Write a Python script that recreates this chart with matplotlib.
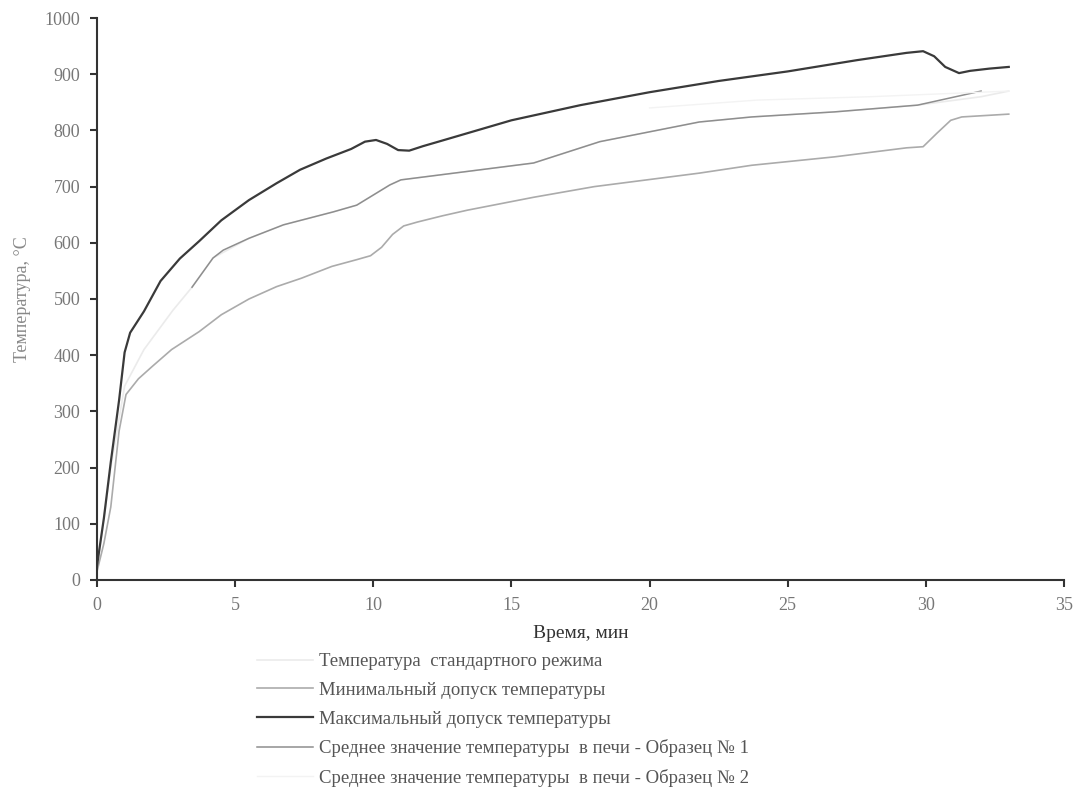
import matplotlib
matplotlib.use("Agg")
import matplotlib.pyplot as plt

plt.rcParams['font.family'] = ['Liberation Serif', 'DejaVu Serif']

# time (min) and temperature (°C)
max_t = [0, 0.25, 0.5, 0.8, 1.0, 1.2, 1.7, 2.3, 3, 3.7, 4.5, 5.5, 6.5, 7.35, 8.3, 9.2, 9.7, 10.1,
         10.5, 10.9, 11.3, 11.8, 12.5, 15, 17.5, 20, 22.5, 25, 27.5, 29.3, 29.9, 30.3, 30.7, 31.2,
         31.6, 32.3, 33]
max_v = [25, 110, 210, 320, 405, 440, 478, 532, 572, 603, 640, 676, 706, 730, 750, 767, 780, 783,
         776, 765, 764, 772, 782, 818, 845, 868, 888, 905, 925, 938, 941, 932, 913, 902,
         906, 910, 913]

min_t = [0, 0.25, 0.5, 0.8, 1.05, 1.5, 2, 2.7, 3.7, 4.5, 5.5, 6.5, 7.4, 8.5, 9.4, 9.9, 10.3, 10.7,
         11.1, 11.6, 12.5, 13.4, 15.8, 18, 21.8, 23.7, 26.7, 29.3, 29.9, 30.4, 30.9, 31.3, 33]
min_v = [15, 65, 130, 265, 330, 358, 380, 410, 442, 472, 500, 522, 537, 558, 570, 577, 592, 615,
         630, 637, 648, 658, 681, 700, 724, 738, 753, 769, 771, 795, 818, 824, 829]

std_t = [0, 0.5, 1.0, 1.7, 2.75, 3.44, 4.2, 5.5, 6.75, 8.55, 9.4, 10.1, 10.6, 11, 15.8, 18.2,
         21.8, 23.7, 26.7, 29.7, 32, 33]
std_v = [20, 200, 345, 410, 480, 521, 573, 608, 632, 655, 667, 688, 703, 712, 742, 780,
         815, 824, 833, 845, 860, 870]

s1_t = [3.44, 4.2, 4.57, 5.5, 6.75, 8.55, 9.4, 10.1, 10.6, 11, 15.8, 18.2, 21.8, 23.7, 26.7,
        29.7, 32]
s1_v = [521, 573, 587, 608, 632, 655, 667, 688, 703, 712, 742, 780, 815, 824, 833,
        845, 870]

s2_t = [20, 23.9, 28, 33]
s2_v = [840, 854, 860, 870]

labels = ['Температура  стандартного режима',
          'Минимальный допуск температуры',
          'Максимальный допуск температуры',
          'Среднее значение температуры  в печи - Образец № 1',
          'Среднее значение температуры  в печи - Образец № 2']

fig = plt.figure(figsize=(10.74, 7.91), dpi=100)
ax = fig.add_axes([0.0903, 0.2668, 0.9004, 0.7104])

l_std, = ax.plot(std_t, std_v, color='#ebebeb', lw=1.2)
l_min, = ax.plot(min_t, min_v, color='#ababab', lw=1.2)
l_max, = ax.plot(max_t, max_v, color='#3a3a3a', lw=1.6)
l_s1, = ax.plot(s1_t, s1_v, color='#8e8e8e', lw=1.1)
l_s2, = ax.plot(s2_t, s2_v, color='#f3f3f3', lw=1.0)

ax.set_xlim(0, 35)
ax.set_ylim(0, 1000)
ax.set_xticks(range(0, 36, 5))
ax.set_yticks(range(0, 1001, 100))
for s in ['top', 'right']:
    ax.spines[s].set_visible(False)
for s in ['left', 'bottom']:
    ax.spines[s].set_color('#333333')
    ax.spines[s].set_linewidth(1.5)
ax.tick_params(direction='out', length=5, width=1.5, color='#333333',
               labelsize=13, labelcolor='#777777', pad=7)

ax.set_xlabel('Время, мин', fontsize=14, color='#333333', labelpad=8)
ax.set_ylabel('Температура, °С', fontsize=13, color='#888888', labelpad=10)

fig.legend([l_std, l_min, l_max, l_s1, l_s2], labels,
           loc='upper left', bbox_to_anchor=(0.232, 0.184),
           frameon=False, fontsize=13.5, handlelength=3.0, handletextpad=0.3,
           labelspacing=0.62, labelcolor='#555555', borderaxespad=0)

fig.savefig('out.png', dpi=100)
